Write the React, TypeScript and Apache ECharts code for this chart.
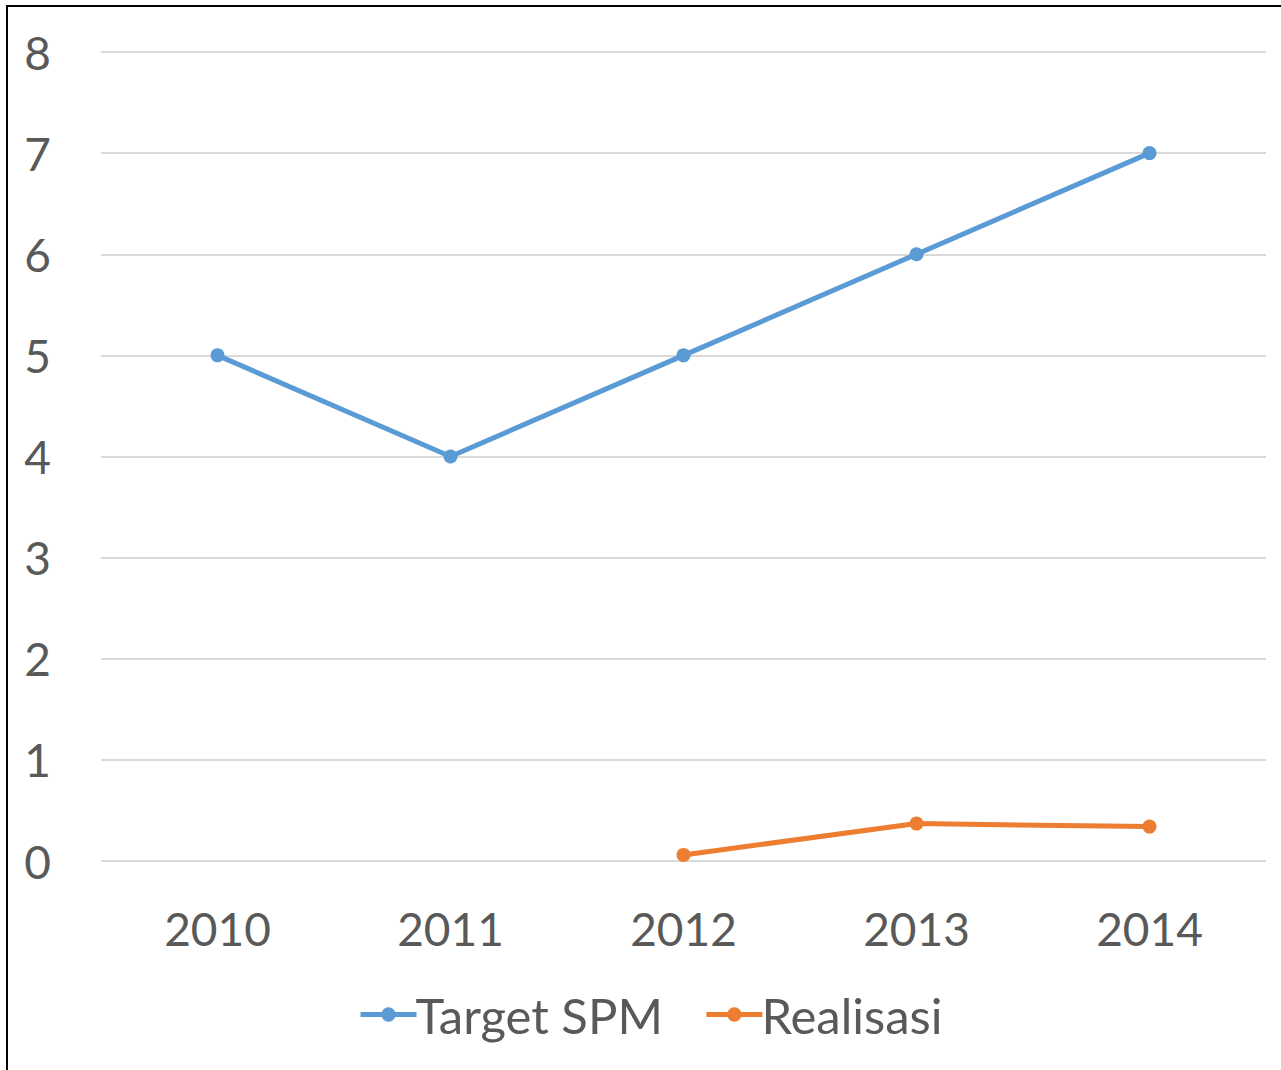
import React, { useEffect, useRef } from "react";
import * as echarts from "echarts";

const years = ["2010", "2011", "2012", "2013", "2014"];
const targetSPM = [5, 4, 5, 6, 7];
const realisasi: (number | null)[] = [null, null, 0.06, 0.37, 0.34];
const seriesNames = ["Target SPM", "Realisasi"];

const FONT = "Lato";

export default function App() {
  const ref = useRef<HTMLDivElement>(null);
  useEffect(() => {
    const chart = echarts.init(ref.current!, undefined, { renderer: "svg" });
    chart.setOption({
      animation: false,
      backgroundColor: "transparent",
      grid: { left: 101, right: 15, top: 52, bottom: 209, containLabel: false },
      xAxis: {
        type: "category",
        data: years,
        boundaryGap: true,
        axisLine: { show: false },
        axisTick: { show: false },
        axisLabel: { color: "#595959", fontSize: 46, fontFamily: FONT, margin: 44 },
      },
      yAxis: {
        type: "value",
        min: 0,
        max: 8,
        interval: 1,
        axisLine: { show: false },
        axisTick: { show: false },
        axisLabel: { color: "#595959", fontSize: 46, fontFamily: FONT, margin: 50 },
        splitLine: { lineStyle: { color: "#d9d9d9", width: 2 } },
      },
      legend: {
        bottom: 26,
        left: 353,
        itemWidth: 56,
        itemHeight: 18,
        itemGap: 41,
        lineStyle: { width: 5 },
        textStyle: { color: "#595959", fontSize: 49, fontFamily: FONT, padding: [0, 0, 0, -6] },
        data: seriesNames,
      },
      series: [
        {
          name: seriesNames[0],
          type: "line",
          data: targetSPM,
          symbol: "circle",
          symbolSize: 14,
          lineStyle: { color: "#5B9BD5", width: 5 },
          itemStyle: { color: "#5B9BD5" },
        },
        {
          name: seriesNames[1],
          type: "line",
          data: realisasi,
          symbol: "circle",
          symbolSize: 14,
          lineStyle: { color: "#ED7D31", width: 5 },
          itemStyle: { color: "#ED7D31" },
        },
      ],
    });
    return () => chart.dispose();
  }, []);
  return (
    <div style={{ position: "absolute", left: 0, top: 0, width: 1281, height: 1070, overflow: "hidden", background: "#fff" }}>
      <div style={{ position: "absolute", left: 6, top: 5, width: 1300, height: 1100, border: "2px solid #000", boxSizing: "border-box" }} />
      <div ref={ref} style={{ position: "absolute", left: 0, top: 0, width: 1281, height: 1070 }} />
    </div>
  );
}
